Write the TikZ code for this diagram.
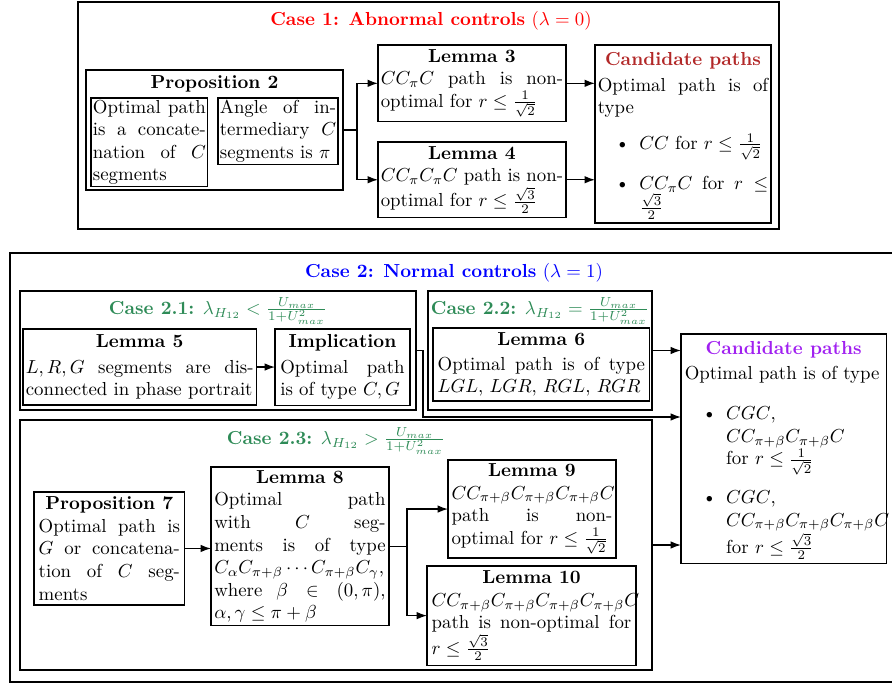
\documentclass[tikz,border=0pt]{standalone}
\usetikzlibrary{arrows.meta,calc,fit}
\setlength{\leftmargini}{22pt}
\definecolor{casegreen}{RGB}{46,139,87}
\definecolor{candred}{RGB}{178,40,40}
\definecolor{candpurple}{RGB}{160,32,240}
\newcommand{\boxhead}[2][black]{{\centering\bfseries\textcolor{#1}{#2}\par}}
\newcommand{\hstrut}[1]{\rule{0pt}{#1}}
\newenvironment{bulletlist}[2]{\list{\textbullet}{\leftmargin=22pt\topsep=#1\itemsep=#2\parsep=4pt\partopsep=0pt}}{\endlist}
\begin{document}
\begin{tikzpicture}[x=0.531pt,y=-0.531pt,
  every node/.style={inner sep=0pt, outer sep=0pt},
  frame/.style={draw, line width=0.7pt, inner sep=0pt},
  txtbox/.style={draw, line width=0.7pt, anchor=north west, inner sep=1.5pt, align=justify},
  arr/.style={line width=0.7pt, -{Latex[length=5.5pt,width=4pt]}},
  wire/.style={line width=0.7pt}]
\useasboundingbox (0,0) rectangle (892,685);
% ---------- Case 1 ----------
\node[frame, fit={(78,2) (779,229)}] (c1) {};
\node[text=red] (t1) at (431,20.5) {\textbf{Case 1: Abnormal controls} $(\lambda=0)$};
\node[frame, fit={(86,70) (343,190)}] (p2) {};
\node (p2t) at (214.5,83.5) {\textbf{Proposition 2}};
\node[txtbox, inner sep=1pt, text width=60pt] (p2a) at (91,98) {Optimal path is a concatenation of $C$ segments};
\node[txtbox, inner sep=1pt, text width=61.7pt] (p2b) at (218,98) {Angle of intermediary $C$ segments is $\pi$};
\node[txtbox, inner ysep=2.2pt, text width=96.8pt] (l3) at (378,45) {\boxhead{Lemma 3}$CC_\pi C$ path is non-optimal for $r\leq\frac{1}{\sqrt{2}}$};
\node[txtbox, inner ysep=2.2pt, text width=96.8pt] (l4) at (378,142) {\boxhead{Lemma 4}$CC_\pi C_\pi C$ path is non-optimal for $r\leq\frac{\sqrt{3}}{2}$};
\node[txtbox, inner ysep=2pt, text width=90.5pt] (cp1) at (595,45) {\boxhead[candred]{\hstrut{9pt}Candidate paths}\vspace{1.5pt}Optimal path is of type
 \begin{bulletlist}{7pt}{4pt}\item $CC$ for $r\leq\frac{1}{\sqrt{2}}$ \item $CC_\pi C$ for $r\leq\frac{\sqrt{3}}{2}$\end{bulletlist}};
% ---------- Case 2 ----------
\node[frame, fit={(10,253) (898,682)}] (c2) {};
\node[text=blue] (t2) at (454,272.5) {\textbf{Case 2: Normal controls} $(\lambda=1)$};
\node[frame, fit={(20,291) (416,410)}] (c21) {};
\node[text=casegreen] (t21) at (218,311) {\textbf{Case 2.1:} $\lambda_{H_{12}}<\frac{U_{max}}{1+U_{max}^2}$};
\node[txtbox, inner ysep=3pt, text width=121pt] (l5) at (23,329) {\boxhead{Lemma 5}\vspace{1.6pt}$L,R,G$ segments are disconnected in phase portrait};
\node[txtbox, inner xsep=2.8pt, inner ysep=3pt, text width=66pt] (impl) at (275,329) {\boxhead{Implication}\vspace{1.6pt}Optimal path is of type $C,G$};
\node[frame, fit={(428,291) (652,410)}] (c22) {};
\node[text=casegreen] (t22) at (540,311) {\textbf{Case 2.2:} $\lambda_{H_{12}}=\frac{U_{max}}{1+U_{max}^2}$};
\node[txtbox, inner sep=2.5pt, text width=110pt] (l6) at (433,328) {\boxhead{Lemma 6}\vspace{1pt}Optimal path is of type $LGL$, $LGR$, $RGL$, $RGR$};
\node[frame, fit={(20,420) (652,670)}] (c23) {};
\node[text=casegreen] (t23) at (336,441) {\textbf{Case 2.3:} $\lambda_{H_{12}}>\frac{U_{max}}{1+U_{max}^2}$};
\node[txtbox, inner sep=2.5pt, text width=75pt] (p7) at (34,492) {\boxhead{Proposition 7}Optimal path is $G$ or concatenation of $C$ segments};
\node[txtbox, inner sep=1.75pt, text width=91pt] (l8) at (211,467) {\boxhead{Lemma 8}Optimal path\linebreak with $C$ seg-\linebreak ments is of type $C_\alpha C_{\pi+\beta}\cdots C_{\pi+\beta}C_\gamma$, where $\beta\in(0,\pi)$, $\alpha,\gamma\leq\pi+\beta$};
\node[txtbox, inner sep=1.9pt, text width=85.4pt] (l9) at (448,460) {\boxhead{Lemma 9}$CC_{\pi+\beta}C_{\pi+\beta}C_{\pi+\beta}C$ path is non-\linebreak optimal for $r\leq\frac{1}{\sqrt{2}}$};
\node[txtbox, inner sep=2.5pt, text width=106pt] (l10) at (427,566) {\boxhead{Lemma 10}$CC_{\pi+\beta}C_{\pi+\beta}C_{\pi+\beta}C_{\pi+\beta}C$ path is non-optimal for $r\leq\frac{\sqrt{3}}{2}$};
\node[txtbox, inner sep=2pt, text width=105pt] (cp2) at (681,334) {\boxhead[candpurple]{\hstrut{9pt}Candidate paths}\vspace{1pt}Optimal path is of type
 \begin{bulletlist}{9.5pt}{3.25pt}\item $CGC$,\newline $CC_{\pi+\beta}C_{\pi+\beta}C$\newline for $r\leq\frac{1}{\sqrt{2}}$
 \item $CGC$,\newline $CC_{\pi+\beta}C_{\pi+\beta}C_{\pi+\beta}C$\newline for $r\leq\frac{\sqrt{3}}{2}$\end{bulletlist}};
% ---------- connectors ----------
\coordinate (j1) at ($(p2.east)+(14,0)$);
\draw[wire] (p2.east) -- (j1);
\draw[arr] (j1) |- (l3.west);
\draw[arr] (j1) |- (l4.west);
\draw[arr] (l3.east) -- (l3.east -| cp1.west);
\draw[arr] (l4.east) -- (l4.east -| cp1.west);
\draw[arr] (l5.east) -- (l5.east -| impl.west);
\coordinate (j2) at (423,417);
\draw[arr] (c21.east) -| (j2) -- (j2 -| cp2.west);
\draw[arr] (c22.east) -- (c22.east -| cp2.west);
\draw[arr] (c23.east) -- (c23.east -| cp2.west);
\draw[arr] (p7.east) -- (p7.east -| l8.west);
\coordinate (j3) at ($(l8.east)+(18,0)$);
\draw[wire] (l8.east) -- (j3);
\draw[arr] (j3) |- (l9.west);
\draw[arr] (j3) |- (l10.west);
\end{tikzpicture}
\end{document}
